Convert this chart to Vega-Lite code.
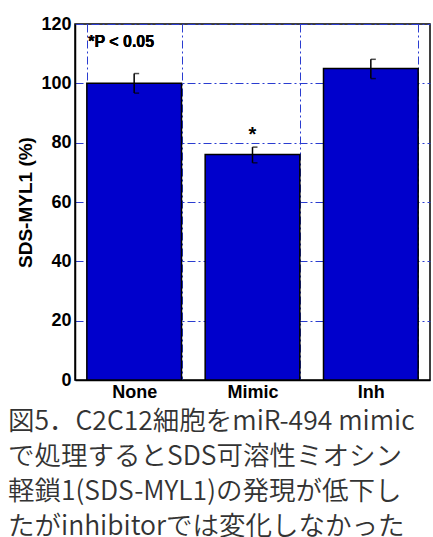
{
  "$schema": "https://vega.github.io/schema/vega-lite/v6.json",
  "width": 355,
  "height": 356,
  "autosize": {"type": "none"},
  "padding": {"left": 75, "top": 24, "right": 3, "bottom": 157},
  "background": "white",
  "config": {
    "view": {"stroke": "black", "strokeWidth": 1.5},
    "axis": {
      "domainColor": "black",
      "domainWidth": 1.5,
      "gridColor": "#2a3cd0",
      "gridDash": [8, 3, 2, 3],
      "gridWidth": 1,
      "labelColor": "black",
      "labelFont": "Liberation Sans",
      "labelFontWeight": "bold",
      "titleFont": "Liberation Sans",
      "titleFontWeight": "bold",
      "titleColor": "black"
    }
  },
  "title": {
    "text": [
      "図5．C2C12細胞をmiR-494 mimic",
      "で処理するとSDS可溶性ミオシン",
      "軽鎖1(SDS-MYL1)の発現が低下し",
      "たがinhibitorでは変化しなかった"
    ],
    "orient": "bottom",
    "anchor": "start",
    "frame": "group",
    "dx": -67,
    "offset": 8,
    "font": "Noto Sans CJK JP",
    "fontSize": 26.5,
    "fontWeight": 350,
    "color": "#333333",
    "lineHeight": 35
  },
  "data": {
    "values": [
      {"group": "None", "value": 100, "low": 96.7, "high": 103.3, "sig": ""},
      {"group": "Mimic", "value": 76, "low": 73.2, "high": 78.5, "sig": "*"},
      {"group": "Inh", "value": 105, "low": 101.6, "high": 108.1, "sig": ""}
    ]
  },
  "encoding": {
    "x": {
      "field": "group",
      "type": "nominal",
      "sort": ["None", "Mimic", "Inh"],
      "scale": {"paddingInner": 0.2, "paddingOuter": 0.1},
      "axis": {
        "title": null,
        "labelAngle": 0,
        "labelFontSize": 18,
        "labelPadding": 3,
        "ticks": false,
        "tickBand": "extent",
        "grid": true
      }
    }
  },
  "layer": [
    {
      "mark": {"type": "bar", "color": "#0000cc", "stroke": "black", "strokeWidth": 1.5},
      "encoding": {
        "y": {
          "field": "value",
          "type": "quantitative",
          "scale": {"domain": [0, 120], "nice": false},
          "axis": {
            "title": "SDS-MYL1 (%)",
            "titleFontSize": 19,
            "titlePadding": 5,
            "values": [0, 20, 40, 60, 80, 100, 120],
            "labelFontSize": 18,
            "labelPadding": 4,
            "ticks": false,
            "grid": true
          }
        }
      }
    },
    {
      "mark": {"type": "rule", "color": "black", "strokeWidth": 1.5},
      "encoding": {
        "y": {"field": "low", "type": "quantitative"},
        "y2": {"field": "high"}
      }
    },
    {
      "mark": {"type": "tick", "color": "black", "thickness": 1.5, "size": 5, "xOffset": 2.5},
      "encoding": {"y": {"field": "high", "type": "quantitative"}}
    },
    {
      "mark": {"type": "tick", "color": "black", "thickness": 1.5, "size": 5, "xOffset": 2.5},
      "encoding": {"y": {"field": "low", "type": "quantitative"}}
    },
    {
      "mark": {"type": "text", "font": "Liberation Sans", "fontWeight": "bold", "fontSize": 20, "baseline": "bottom", "dy": -2},
      "encoding": {
        "y": {"field": "high", "type": "quantitative"},
        "text": {"field": "sig"}
      }
    },
    {
      "mark": {"type": "text", "font": "Liberation Sans", "fontWeight": "bold", "fontSize": 16, "align": "left", "baseline": "middle", "dx": -46},
      "encoding": {
        "x": {"datum": "None"},
        "y": {"datum": 114},
        "text": {"value": "*P < 0.05"}
      }
    }
  ]
}
